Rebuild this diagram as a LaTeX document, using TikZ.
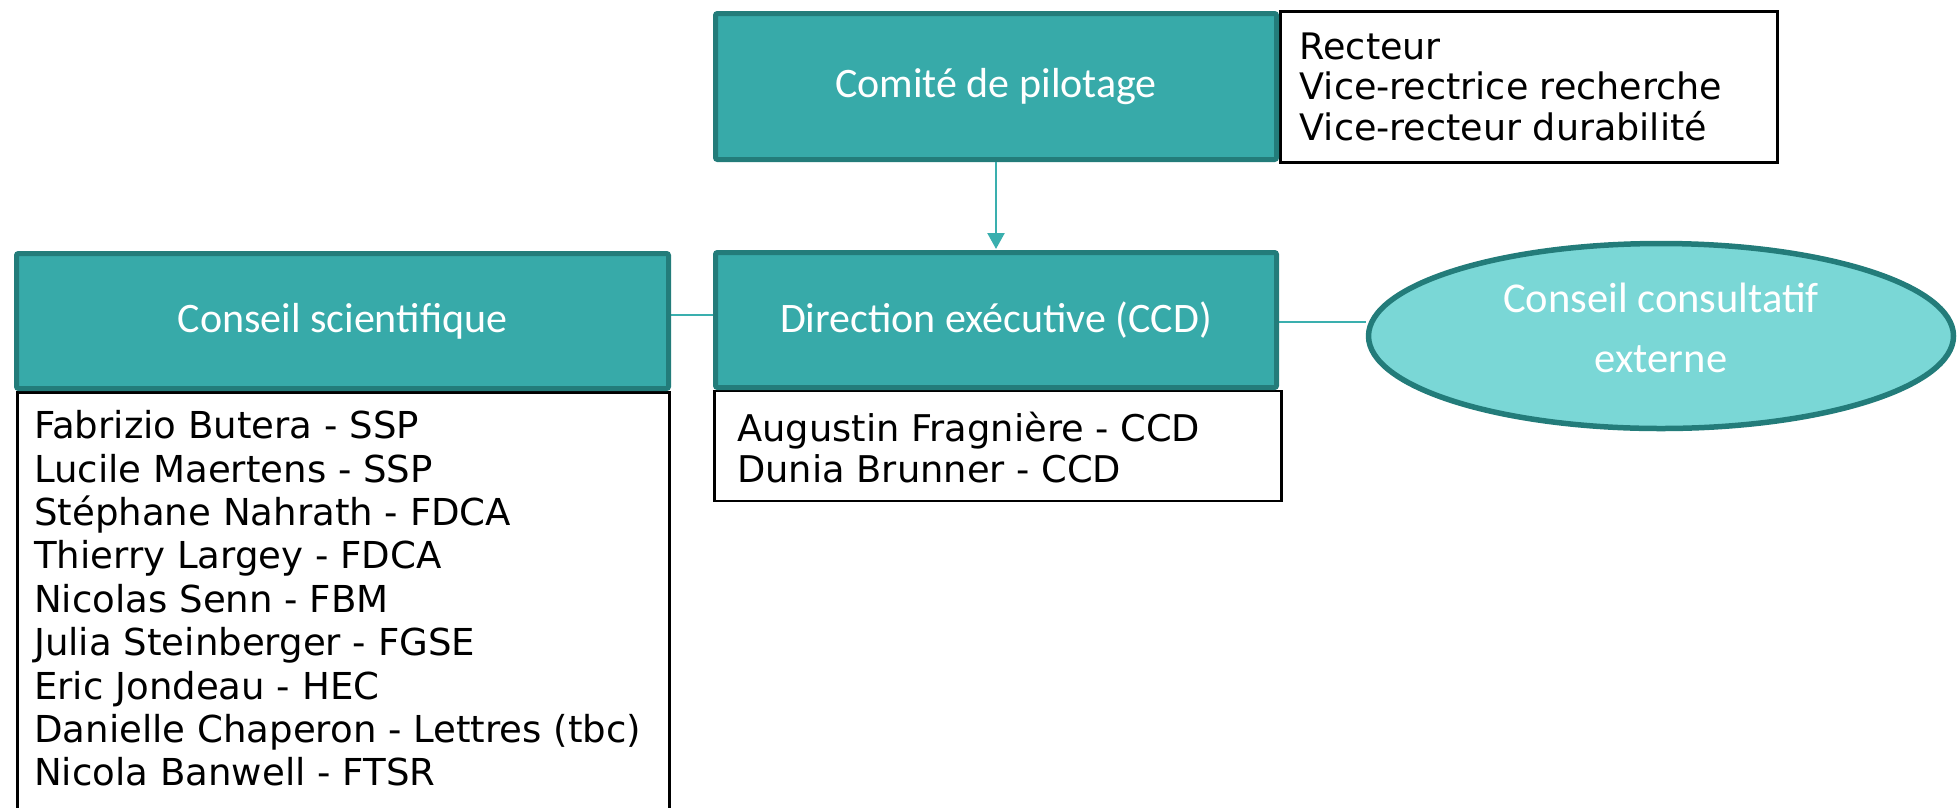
\documentclass[tikz,border=0pt]{standalone}
\usepackage{fontspec}
\setmainfont{DejaVu Sans}
\newfontfamily\calib{Carlito}
\usetikzlibrary{shapes.geometric,arrows.meta,backgrounds}
\definecolor{tealfill}{HTML}{37AAA9}
\definecolor{tealdark}{HTML}{237C7A}
\definecolor{ellfill}{HTML}{7AD7D6}
\definecolor{linecol}{HTML}{3AAFAE}
\tikzset{
  tealbox/.style={rectangle, fill=tealfill, draw=tealdark, line width=5pt, rounded corners=2pt,
    text=white, font=\calib\fontsize{42}{50}\selectfont, inner sep=0pt},
  whitebox/.style={rectangle, fill=white, draw=black, line width=2.5pt, inner sep=0pt},
  listtext/.style={anchor=north west, inner sep=0pt, align=left, text=black},
  ellbox/.style={ellipse, fill=ellfill, draw=tealdark, line width=5.5pt, inner sep=0pt},
  conn/.style={draw=linecol, line width=2.5pt},
}
\begin{document}
\begin{tikzpicture}[x=1pt,y=-1pt]
\useasboundingbox (0,0) rectangle (1959,807);
\clip (0,0) rectangle (1959,807);
% white boxes
\node[whitebox, minimum width=497pt, minimum height=151pt] (rect) at (1529,87) {};
\node[whitebox, minimum width=567pt, minimum height=110pt] (dirw) at (998,446) {};
\node[whitebox, anchor=north west, minimum width=652pt, minimum height=440pt] (csw) at (16,391) {};
% teal boxes
\node[tealbox, minimum width=561pt, minimum height=146pt] (comite) at (996,86.5) {Comité de pilotage};
\node[tealbox, minimum width=561pt, minimum height=135pt] (dir) at (996,320) {Direction exécutive (CCD)};
\node[tealbox, minimum width=652pt, minimum height=135pt] (cs) at (342.5,321) {Conseil scientifique};
% ellipse
\node[ellbox, minimum width=585pt, minimum height=185pt] (ell) at (1661,336) {};
\node[text=white, font=\calib\fontsize{42.5}{60}\selectfont, align=center, inner sep=0pt] (elltext) at ([yshift=8pt]ell.center) {Conseil consultatif\\externe};
% texts
\node[listtext, font=\fontsize{36.5}{40.5}\selectfont] (recttext) at (1299.5,29) {\rule{0pt}{30pt}Recteur\\Vice-rectrice recherche\\Vice-recteur durabilité};
\node[listtext, font=\fontsize{36.8}{41}\selectfont] (dirtext) at (737,411.5) {\rule{0pt}{30pt}Augustin Fragnière - CCD\\Dunia Brunner - CCD};
\node[listtext, font=\fontsize{37.1}{43.4}\selectfont] (cstext) at (34,408.5) {\rule{0pt}{30pt}Fabrizio Butera - SSP\\Lucile Maertens - SSP\\Stéphane Nahrath - FDCA\\Thierry Largey - FDCA\\Nicolas Senn - FBM\\Julia Steinberger - FGSE\\Eric Jondeau - HEC\\Danielle Chaperon - Lettres (tbc)\\Nicola Banwell - FTSR};
% connectors
\begin{scope}[on background layer]
\draw[conn] ([yshift=6pt]cs.east) -- ([yshift=6pt]cs.east -| dir.west);
\draw[conn] ([yshift=-2pt]dir.east) -- ([yshift=-2pt]dir.east -| ell.west);
\end{scope}
\draw[conn, -{Triangle[width=17pt,length=16pt]}] (comite.south) -- ([yshift=1pt]dir.north);
\end{tikzpicture}
\end{document}
